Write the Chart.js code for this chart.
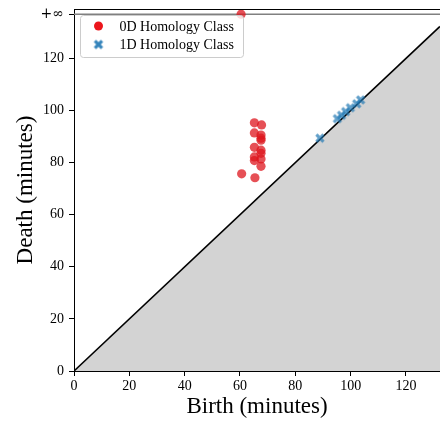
<!DOCTYPE html>
<html>
<head>
<meta charset="utf-8">
<script src="https://cdn.jsdelivr.net/npm/chart.js@4"></script>
<style>
  html, body { margin: 0; padding: 0; background: #fff; }
  #wrap { width: 440px; height: 421px; }
</style>
</head>
<body>
<div id="wrap"><canvas id="pd"></canvas></div>
<script>
// --- DATA ---
const INF = 137;          // where "+inf" deaths are drawn
const X_MAX = 132.3;
const Y_MAX = 139;

const xTickValues = [0, 20, 40, 60, 80, 100, 120];
const yTickValues = [0, 20, 40, 60, 80, 100, 120, INF];

const births0D = [65.2, 67.8, 65.2, 67.6, 67.6, 67.6, 65.2, 67.6, 67.6, 65.2, 65.2, 67.6, 67.6, 60.6, 65.4, 60.4];
const deaths0D = [95.3, 94.5, 91.4, 90.6, 89.4, 88.6, 85.9, 84.8, 83.6, 82.2, 80.8, 81.4, 78.6, 75.7, 74.2, INF];

const births1D = [88.9, 95.2, 96.7, 98.2, 99.9, 102.2, 103.6];
const deaths1D = [89.4, 96.9, 98.2, 99.6, 101.1, 102.6, 104.1];

const labels = ['0D Homology Class', '1D Homology Class'];

// --- STYLE ---
const SERIF = '"Liberation Serif", "DejaVu Serif", serif';
const RED = 'rgba(222, 22, 30, 0.75)';
const BLUE = 'rgba(31, 119, 180, 0.7)';

// --- HELPERS ---
function toPoints(xs, ys) {
    return xs.map((x, i) => ({ x: x, y: ys[i] }));
}

// filled "X" marker (like matplotlib's 'X')
function makeFilledX(color) {
    const c = document.createElement('canvas');
    c.width = 12; c.height = 12;
    const ctx = c.getContext('2d');
    const a = 5, w = 1.6;
    const pts = [[-w,-a],[w,-a],[w,-w],[a,-w],[a,w],[w,w],[w,a],[-w,a],[-w,w],[-a,w],[-a,-w],[-w,-w]];
    ctx.translate(6, 6);
    ctx.rotate(Math.PI / 4);
    ctx.beginPath();
    pts.forEach((p, i) => i ? ctx.lineTo(p[0], p[1]) : ctx.moveTo(p[0], p[1]));
    ctx.closePath();
    ctx.fillStyle = color;
    ctx.fill();
    return c;
}

const xMarker = makeFilledX(BLUE);
const xMarkerLegend = makeFilledX('rgba(31, 119, 180, 0.9)');

// the scales reserve room for edge labels; the reference has none
function noScalePadding(s) {
    s.paddingTop = 0; s.paddingBottom = 0;
    s.paddingLeft = 0; s.paddingRight = 0;
}

// --- PLUGINS ---
// top spine + in-axes legend box
const framePlugin = {
    id: 'frame',
    afterDraw(chart) {
        const { ctx, chartArea } = chart;
        ctx.save();
        ctx.strokeStyle = '#000';
        ctx.lineWidth = 1;
        ctx.beginPath();
        ctx.moveTo(chartArea.left, chartArea.top + 0.5);
        ctx.lineTo(chartArea.right, chartArea.top + 0.5);
        ctx.stroke();

        // legend
        const bx = chartArea.left + 6.5, by = chartArea.top + 6.5;
        const bw = 163, bh = 42;
        ctx.beginPath();
        ctx.roundRect(bx, by, bw, bh, 3);
        ctx.fillStyle = 'rgba(255,255,255,0.8)';
        ctx.fill();
        ctx.strokeStyle = '#cccccc';
        ctx.stroke();

        ctx.font = '14px ' + SERIF;
        ctx.textBaseline = 'middle';
        const rowY = [by + 10.5, by + 29];
        ctx.beginPath();
        ctx.arc(bx + 18, rowY[0], 4.5, 0, Math.PI * 2);
        ctx.fillStyle = 'rgb(236, 22, 28)';
        ctx.fill();
        ctx.drawImage(xMarkerLegend, bx + 12, rowY[1] - 6);
        ctx.fillStyle = '#000';
        ctx.fillText(labels[0], bx + 39, rowY[0] + 1);
        ctx.fillText(labels[1], bx + 39, rowY[1] + 1);
        ctx.restore();
    }
};

// --- CHART ---
const tickFont = { family: SERIF, size: 14 };
const infFont = { family: '"DejaVu Serif", serif', size: 14 };
const titleFont = { family: SERIF, size: 23 };

new Chart(document.getElementById('pd'), {
    type: 'scatter',
    data: {
        datasets: [
            {
                label: labels[0],
                data: toPoints(births0D, deaths0D),
                pointStyle: 'circle',
                pointRadius: 4.6,
                backgroundColor: RED,
                borderWidth: 0,
                clip: 0,
                order: 0
            },
            {
                label: labels[1],
                data: toPoints(births1D, deaths1D),
                pointStyle: xMarker,
                clip: 0,
                order: 1
            },
            {
                // +inf line
                type: 'line',
                data: [{ x: 0, y: INF }, { x: X_MAX, y: INF }],
                borderColor: '#808080',
                borderWidth: 1.5,
                pointRadius: 0,
                fill: false,
                clip: 0,
                order: 2
            },
            {
                // diagonal, grey below it
                type: 'line',
                data: [{ x: 0, y: 0 }, { x: X_MAX, y: X_MAX }],
                borderColor: '#000',
                borderWidth: 1.6,
                pointRadius: 0,
                fill: 'start',
                backgroundColor: '#d3d3d3',
                clip: 0,
                order: 3
            }
        ]
    },
    options: {
        responsive: true,
        maintainAspectRatio: false,
        animation: false,
        layout: { autoPadding: false, padding: { top: 9, right: 0, left: 0, bottom: 0 } },
        plugins: {
            legend: { display: false },
            tooltip: { enabled: false }
        },
        scales: {
            x: {
                type: 'linear',
                min: 0,
                max: X_MAX,
                afterBuildTicks: s => { s.ticks = xTickValues.map(v => ({ value: v })); },
                afterFit: s => { s.height = 50; noScalePadding(s); },
                grid: { drawOnChartArea: false, tickLength: 5, tickColor: '#000' },
                border: { color: '#000', width: 1 },
                ticks: { font: tickFont, color: '#000', padding: 2, maxRotation: 0, autoSkip: false },
                title: { display: true, text: 'Birth (minutes)', font: titleFont, color: '#000', padding: { top: 0, bottom: 0 } }
            },
            y: {
                type: 'linear',
                min: 0,
                max: Y_MAX,
                afterBuildTicks: s => { s.ticks = yTickValues.map(v => ({ value: v })); },
                afterFit: s => { s.width = 74; noScalePadding(s); },
                grid: { drawOnChartArea: false, tickLength: 5, tickColor: '#000' },
                border: { color: '#000', width: 1 },
                ticks: {
                    color: '#000', padding: 5, autoSkip: false,
                    font: ctx => (ctx.tick && ctx.tick.value === INF) ? infFont : tickFont,
                    callback: v => v === INF ? '+\u221e' : v
                },
                title: { display: true, text: 'Death (minutes)', font: titleFont, color: '#000', padding: { top: 12, bottom: 0 } }
            }
        }
    },
    plugins: [framePlugin]
});
</script>
</body>
</html>
